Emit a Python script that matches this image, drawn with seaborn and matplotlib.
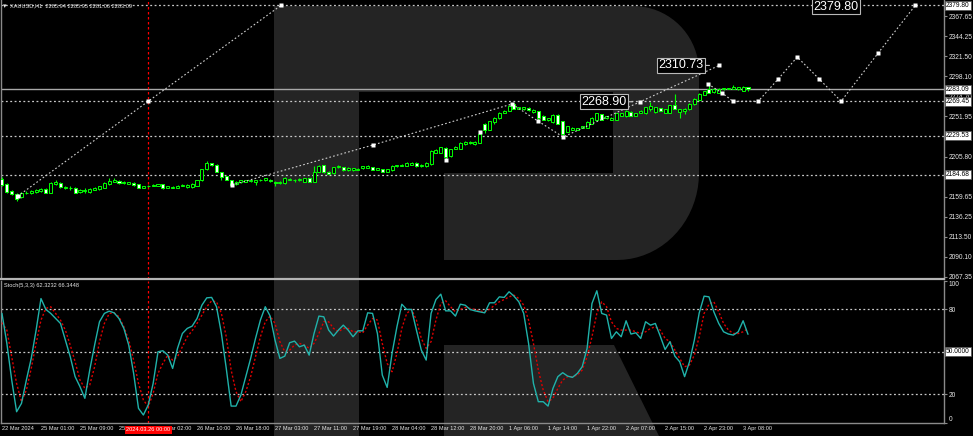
import matplotlib
matplotlib.use("Agg")
import matplotlib.pyplot as plt
import matplotlib.transforms as mtransforms
from matplotlib import font_manager
from matplotlib.patches import Polygon
import seaborn as sns
import pandas as pd
import numpy as np

W, H = 973, 436

# ---- XAUUSD H1 candles (22 Mar 2024 .. 3 Apr 2024 09:00) ----
opens = [2179.9, 2174.1, 2166.1, 2162.6, 2159.2, 2163.8, 2163.8, 2164.9, 2166.1, 2168.4,
         2164.3, 2173.6, 2175.3, 2169.0, 2170.1, 2170.1, 2164.9, 2166.1, 2164.9, 2167.8,
         2168.4, 2170.1, 2173.6, 2177.0, 2177.6, 2175.3, 2174.1, 2175.3, 2173.6, 2170.1,
         2171.3, 2171.8, 2172.4, 2173.6, 2169.5, 2169.5, 2170.1, 2171.8, 2170.7, 2170.7,
         2172.4, 2178.2, 2190.9, 2197.8, 2196.6, 2188.0, 2182.8, 2178.7, 2173.6, 2175.9,
         2177.0, 2177.6, 2177.0, 2178.2, 2178.2, 2179.3, 2177.0, 2175.3, 2175.3, 2179.3,
         2178.2, 2178.2, 2177.0, 2181.0, 2176.4, 2188.5, 2195.5, 2188.5, 2186.3, 2193.7,
         2193.2, 2189.7, 2189.7, 2190.3, 2192.0, 2192.6, 2193.2, 2190.3, 2190.9, 2188.5,
         2189.7, 2194.3, 2194.9, 2194.9, 2196.6, 2198.9, 2194.3, 2194.3, 2197.2, 2210.4,
         2210.4, 2215.6, 2206.4, 2214.4, 2215.0, 2220.2, 2220.8, 2220.2, 2221.9, 2243.3,
         2236.3, 2245.0, 2249.6, 2255.9, 2258.8, 2266.3, 2260.5, 2260.0, 2261.7, 2257.1,
         2258.2, 2253.0, 2247.3, 2245.0, 2253.6, 2246.2, 2234.0, 2236.9, 2236.9, 2238.6,
         2239.2, 2243.8, 2248.4, 2254.2, 2249.6, 2247.9, 2248.4, 2252.5, 2251.9, 2257.1,
         2253.0, 2255.9, 2255.4, 2260.5, 2257.1, 2261.3, 2256.5, 2256.5, 2265.5, 2257.1,
         2258.2, 2260.0, 2266.3, 2270.9, 2277.0, 2283.2, 2279.8, 2279.3, 2283.0, 2283.6,
         2283.9, 2283.2, 2281.6, 2285.94]
highs = [2182.2, 2175.3, 2167.2, 2163.8, 2164.9, 2166.1, 2167.2, 2168.4, 2169.5, 2169.5,
         2176.4, 2178.7, 2175.9, 2171.8, 2171.3, 2170.7, 2168.4, 2169.5, 2169.0, 2170.7,
         2172.4, 2176.4, 2181.0, 2180.5, 2178.2, 2177.6, 2176.4, 2175.9, 2174.1, 2172.4,
         2173.0, 2173.6, 2174.7, 2174.1, 2171.8, 2171.3, 2173.0, 2173.6, 2173.6, 2175.3,
         2179.3, 2191.4, 2200.1, 2198.3, 2197.2, 2188.5, 2183.4, 2179.3, 2177.6, 2178.7,
         2178.7, 2179.3, 2178.7, 2179.9, 2181.0, 2179.9, 2177.6, 2177.6, 2182.2, 2181.0,
         2179.9, 2180.5, 2181.6, 2181.6, 2194.3, 2195.5, 2196.6, 2189.1, 2193.7, 2196.0,
         2193.7, 2193.2, 2192.6, 2192.6, 2194.9, 2195.5, 2193.7, 2192.6, 2191.4, 2191.4,
         2195.5, 2196.6, 2197.2, 2199.5, 2199.5, 2199.5, 2197.2, 2199.5, 2213.3, 2214.4,
         2216.7, 2216.2, 2215.0, 2217.9, 2222.5, 2223.1, 2223.1, 2223.1, 2234.0, 2244.4,
         2246.7, 2251.3, 2257.1, 2259.4, 2265.1, 2268.0, 2263.4, 2262.8, 2262.3, 2260.0,
         2258.8, 2253.6, 2250.2, 2254.2, 2254.2, 2246.7, 2240.9, 2239.8, 2239.2, 2240.9,
         2246.2, 2251.3, 2255.9, 2254.8, 2252.5, 2251.3, 2255.9, 2255.9, 2259.4, 2257.7,
         2256.5, 2259.4, 2262.8, 2268.6, 2263.4, 2261.7, 2261.1, 2265.7, 2277.8, 2261.1,
         2261.7, 2266.9, 2273.2, 2278.4, 2281.8, 2289.3, 2284.7, 2284.7, 2284.7, 2285.3,
         2287.8, 2285.9, 2286.7, 2285.95]
lows = [2171.8, 2163.8, 2161.5, 2154.5, 2158.0, 2162.6, 2162.6, 2163.8, 2164.9, 2163.8,
        2163.8, 2173.0, 2169.5, 2168.4, 2167.8, 2163.8, 2163.2, 2164.3, 2164.3, 2167.2,
        2167.8, 2169.5, 2173.0, 2176.4, 2174.7, 2174.7, 2173.6, 2172.4, 2169.5, 2169.5,
        2170.7, 2171.3, 2171.8, 2168.4, 2169.0, 2169.0, 2169.5, 2171.3, 2170.1, 2169.5,
        2171.8, 2177.6, 2190.3, 2194.9, 2187.4, 2178.2, 2178.2, 2171.8, 2173.0, 2175.3,
        2176.4, 2177.0, 2173.0, 2177.6, 2177.6, 2177.0, 2171.8, 2174.7, 2174.7, 2178.2,
        2176.4, 2177.6, 2176.4, 2175.9, 2175.9, 2188.0, 2186.8, 2185.1, 2185.7, 2192.6,
        2189.1, 2189.1, 2189.1, 2189.7, 2191.4, 2192.0, 2189.7, 2189.7, 2188.0, 2188.0,
        2189.1, 2193.7, 2194.3, 2194.3, 2196.0, 2193.7, 2193.2, 2193.7, 2196.6, 2209.8,
        2209.8, 2202.9, 2205.8, 2213.9, 2214.4, 2219.6, 2220.2, 2219.1, 2221.4, 2232.9,
        2235.8, 2243.8, 2249.0, 2255.4, 2258.2, 2260.0, 2260.0, 2259.4, 2258.8, 2256.5,
        2247.3, 2247.3, 2246.7, 2244.4, 2243.3, 2228.8, 2233.5, 2236.3, 2236.3, 2238.1,
        2238.6, 2243.3, 2247.9, 2247.9, 2249.0, 2247.3, 2247.9, 2251.9, 2251.3, 2252.5,
        2252.5, 2255.4, 2254.8, 2258.8, 2256.5, 2257.7, 2255.9, 2255.9, 2260.0, 2250.7,
        2254.8, 2259.4, 2265.7, 2270.3, 2276.7, 2279.0, 2279.0, 2279.0, 2282.4, 2283.0,
        2283.6, 2282.4, 2281.3, 2281.06]
closes = [2173.0, 2164.9, 2162.6, 2156.9, 2163.8, 2163.4, 2166.1, 2167.2, 2168.4, 2164.3,
          2175.3, 2175.9, 2170.7, 2170.7, 2169.0, 2164.3, 2167.2, 2167.2, 2168.4, 2170.1,
          2171.8, 2175.3, 2177.6, 2178.2, 2175.3, 2176.4, 2175.9, 2173.0, 2170.1, 2171.8,
          2172.4, 2173.0, 2174.1, 2169.0, 2171.3, 2170.7, 2172.4, 2173.0, 2173.0, 2173.6,
          2178.7, 2190.9, 2197.8, 2196.0, 2188.0, 2182.2, 2178.7, 2173.0, 2177.0, 2178.2,
          2178.2, 2178.7, 2178.2, 2179.3, 2180.5, 2177.6, 2175.3, 2177.0, 2181.0, 2179.9,
          2178.7, 2179.9, 2181.0, 2176.4, 2188.5, 2194.3, 2187.4, 2185.7, 2193.2, 2194.3,
          2189.7, 2192.0, 2192.0, 2191.4, 2194.3, 2194.9, 2190.3, 2192.0, 2188.5, 2190.9,
          2194.9, 2196.0, 2196.6, 2198.9, 2198.3, 2194.3, 2196.6, 2198.9, 2212.7, 2213.3,
          2216.2, 2205.8, 2214.4, 2217.3, 2221.9, 2222.5, 2222.5, 2222.5, 2232.3, 2236.3,
          2246.2, 2250.7, 2256.5, 2258.8, 2264.0, 2260.5, 2262.8, 2262.3, 2259.4, 2259.4,
          2250.2, 2247.9, 2249.6, 2253.6, 2243.8, 2232.3, 2240.4, 2239.2, 2238.6, 2240.4,
          2245.6, 2250.7, 2255.4, 2248.4, 2251.9, 2250.7, 2255.4, 2255.4, 2258.8, 2253.0,
          2255.9, 2258.8, 2262.3, 2264.0, 2262.8, 2257.9, 2260.5, 2265.1, 2260.5, 2260.5,
          2260.9, 2266.3, 2272.4, 2277.8, 2280.9, 2279.3, 2283.9, 2283.9, 2284.2, 2284.4,
          2286.2, 2285.5, 2285.9, 2283.09]

# ---- Stochastic(5,3,3) ----
stoch_k = [77.1, 55.9, 30.0, 7.6, 13.5, 30.0, 45.3, 65.3, 87.6, 79.9,
           77.1, 73.5, 70.0, 58.2, 46.5, 32.4, 25.3, 17.1, 37.1, 54.7,
           71.2, 77.1, 78.7, 77.5, 73.5, 66.5, 54.7, 34.7, 10.0, 5.3,
           12.4, 27.6, 50.0, 50.7, 47.6, 38.2, 52.4, 62.9, 66.5, 68.1,
           73.5, 82.9, 88.1, 88.4, 81.8, 62.9, 38.2, 11.6, 11.6, 19.4,
           32.4, 45.3, 59.4, 72.4, 81.8, 75.2, 58.2, 45.3, 46.9, 56.4,
           57.5, 53.5, 54.7, 47.6, 62.9, 75.2, 74.7, 65.3, 61.1, 65.3,
           68.8, 65.3, 60.6, 64.8, 64.8, 77.5, 77.1, 62.9, 33.5, 24.8,
           48.8, 67.6, 83.6, 79.9, 79.9, 65.3, 51.2, 44.1, 77.1, 86.9,
           90.7, 78.9, 78.9, 75.2, 83.6, 82.9, 79.9, 78.9, 78.2, 77.5,
           84.6, 84.6, 88.8, 88.4, 92.4, 89.3, 85.3, 77.1, 55.9, 27.6,
           14.7, 14.7, 11.6, 24.1, 32.4, 35.2, 32.8, 31.9, 34.7, 39.4,
           52.4, 84.1, 93.1, 77.1, 75.9, 59.4, 64.1, 60.6, 71.9, 62.5,
           63.4, 59.4, 71.2, 68.8, 70.0, 61.1, 51.6, 57.1, 46.9, 42.9,
           32.4, 42.9, 58.2, 77.5, 89.3, 88.8, 78.2, 70.0, 64.1, 62.5,
           61.8, 64.1, 71.9, 62.3232]
stoch_d = [70.6, 65.3, 46.5, 27.6, 14.7, 22.9, 38.2, 55.9, 72.4, 80.6,
           81.8, 77.1, 72.4, 65.3, 54.7, 42.9, 30.0, 24.1, 26.5, 39.4,
           57.1, 70.0, 77.1, 77.5, 74.7, 67.6, 58.2, 44.1, 27.6, 15.9,
           11.2, 20.6, 34.7, 41.8, 47.6, 44.1, 46.5, 53.5, 60.6, 64.8,
           70.0, 75.9, 81.8, 86.0, 85.3, 77.1, 60.6, 37.1, 21.8, 14.7,
           21.8, 32.4, 46.5, 60.6, 71.2, 75.2, 70.0, 57.1, 50.0, 51.2,
           54.7, 55.9, 54.7, 52.4, 55.9, 62.9, 71.2, 71.2, 66.5, 64.1,
           66.5, 66.5, 64.1, 64.1, 63.4, 68.8, 73.5, 72.4, 55.9, 41.8,
           35.9, 48.8, 66.5, 77.1, 79.9, 72.4, 59.4, 52.4, 57.1, 72.4,
           84.1, 86.0, 81.8, 78.2, 79.9, 81.3, 80.6, 79.9, 78.9, 78.2,
           79.9, 82.9, 85.3, 86.9, 88.8, 90.0, 87.6, 82.9, 72.4, 55.9,
           37.1, 22.9, 14.7, 17.1, 24.1, 30.0, 32.4, 32.4, 33.5, 37.1,
           46.5, 60.6, 77.1, 85.3, 81.8, 71.2, 66.5, 65.3, 65.3, 65.3,
           64.1, 62.9, 64.1, 66.5, 67.6, 65.3, 59.4, 57.1, 51.2, 45.3,
           39.4, 40.6, 47.6, 60.6, 77.1, 83.6, 85.3, 78.2, 70.0, 65.3,
           62.9, 62.9, 64.1, 66.3448]

# ---- time axis ----
tick_labels = ["22 Mar 2024", "25 Mar 01:00", "25 Mar 09:00", "25 Mar 17:00", "26 Mar 02:00",
               "26 Mar 10:00", "26 Mar 18:00", "27 Mar 03:00", "27 Mar 11:00", "27 Mar 19:00",
               "28 Mar 04:00", "28 Mar 12:00", "28 Mar 20:00", "1 Apr 06:00", "1 Apr 14:00",
               "1 Apr 22:00", "2 Apr 07:00", "2 Apr 15:00", "2 Apr 23:00", "3 Apr 08:00"]
tick_bars = list(range(0, 160, 8))
marker_bar = 30
marker_label = "2024.03.26 00:00"

# ---- price levels ----
levels = [2379.80, 2269.45, 2229.53, 2184.68]
bid = 2283.09
price_ticks = [2067.35, 2090.10, 2113.50, 2136.25, 2159.65, 2182.40, 2205.80, 2229.15,
               2251.95, 2274.70, 2298.10, 2321.50, 2344.25, 2367.65]
hidden_ticks = [2229.15]   # fully covered by the 2229.53 level box in the terminal

# ---- wave lines drawn on the chart ----
wave1_bars = [3.2, 30.0, 57.2]
wave1_prices = [2160.0, 2269.45, 2379.80]
wave2_bars = [47.2, 76.1, 104.6, 109.9, 115.1, 130.9, 147.1]
wave2_prices = [2173.0, 2219.1, 2266.3, 2246.7, 2228.3, 2268.90, 2310.73]
wave3_bars = [144.8, 147.7, 149.9, 155.1, 159.2, 163.1, 167.6, 172.1, 179.7, 187.3]
wave3_prices = [2289.3, 2279.0, 2269.45, 2269.45, 2295.1, 2320.4, 2295.1, 2269.45, 2325.0, 2379.80]
fractal_bars = [91, 98]
fractal_prices = [2201.8, 2234.5]

# ---- fonts ----
try:
    font_manager.findfont("Liberation Sans Narrow", fallback_to_default=False)
    FONT, K = "Liberation Sans Narrow", 1.0
except ValueError:
    FONT, K = "Liberation Sans", 0.82
sns.set_style("dark")
plt.rcParams["font.family"] = [FONT, "DejaVu Sans"]

GREEN = "#00ff00"
FG = "#e8e8e8"
FRAME = "#8a8a8a"
WM = "#242424"

fig = plt.figure(figsize=(W / 100, H / 100), dpi=100, facecolor="black")


def fpt(x, y):
    return (x / W, 1 - y / H)


# RoboForex "R" watermark, drawn on the figure behind both panels
def arc(cx, cy, rx, ry, a0, a1, n=20):
    t = np.radians(np.linspace(a0, a1, n))
    return [(cx + rx * np.cos(a), cy - ry * np.sin(a)) for a in t]


bowl = [(274, 6)] + arc(633, 72, 66, 66, 90, 0) + arc(617, 173, 82, 87, 0, -90) + \
       [(444, 260), (444, 173), (613, 173), (613, 92), (274, 92)]
stem = [(274, 6), (359, 6), (359, 436), (274, 436)]
leg = [(444, 345), (614, 345), (659, 436), (444, 436)]
for shape in (bowl, stem, leg):
    fig.patches.append(Polygon([fpt(x, y) for x, y in shape], closed=True,
                               transform=fig.transFigure, fc=WM, ec="none", zorder=-5))

ax = fig.add_axes([1 / W, 1 - 279 / H, 943 / W, 279 / H])
ax2 = fig.add_axes([1 / W, 1 - 422.5 / H, 943 / W, 141.5 / H])
for a in (ax, ax2):
    a.set_facecolor("none")
    a.set_xlim(-0.2, 193.2)
    a.grid(False)
    for s in a.spines.values():
        s.set_color(FRAME)
        s.set_linewidth(1)
ax.set_ylim(2064.7, 2386.1)
ax2.set_ylim(0, 100)
ax.spines["top"].set_visible(False)
ax.spines["bottom"].set_color("#b4b4b4")
ax.spines["bottom"].set_linewidth(1.6)
ax2.spines["top"].set_visible(False)

# ---- candles ----
df = pd.DataFrame({"o": opens, "h": highs, "l": lows, "c": closes})
df["bar"] = np.arange(len(df))
bull = df["c"] >= df["o"]
ax.vlines(df["bar"], df["l"], df["h"], color=GREEN, lw=0.8, zorder=3)
body = (df["c"] - df["o"]).abs().clip(lower=0.35)
bottom = df[["o", "c"]].min(axis=1)
ax.bar(df["bar"][bull], body[bull], bottom=bottom[bull], width=0.62,
       color="black", edgecolor=GREEN, linewidth=0.7, zorder=4)
ax.bar(df["bar"][~bull], body[~bull], bottom=bottom[~bull], width=0.62,
       color="white", edgecolor=GREEN, linewidth=0.7, zorder=4)

# ---- horizontal levels ----
for lv in levels:
    ax.axhline(lv, color="#c8c8c8", lw=0.9, ls=(0, (1.5, 2)), zorder=1)
ax.axhline(bid, color="#a8a8a8", lw=1.0, zorder=1)

# ---- wave lines ----
for xs, ys in ((wave1_bars, wave1_prices), (wave2_bars, wave2_prices), (wave3_bars, wave3_prices)):
    ax.plot(xs, ys, color="#d0d0d0", lw=0.8, ls=(0, (1.5, 2)), zorder=5)
    ax.plot(xs, ys, "s", ms=2.2, color="white", mec="none", zorder=6)
ax.plot(fractal_bars, fractal_prices, "s", ms=2.2, color="white", mec="none", zorder=6)

big = dict(fontsize=11 * K, color="white", ha="right", va="center", zorder=8,
           bbox=dict(boxstyle="square,pad=0.12", fc="black", ec="#b8b8b8", lw=0.8))
ax.annotate(f"{wave2_prices[-1]:.2f}", xy=(wave2_bars[-1], wave2_prices[-1]), xytext=(-11.5, 0),
            textcoords="offset points",
            arrowprops=dict(arrowstyle="-", color="#c8c8c8", lw=0.8, shrinkA=0, shrinkB=7), **big)
ax.annotate(f"{wave2_prices[-2]:.2f}", xy=(wave2_bars[-2], wave2_prices[-2]), xytext=(-10, 0),
            textcoords="offset points",
            arrowprops=dict(arrowstyle="-", color="#c8c8c8", lw=0.8, shrinkA=0, shrinkB=5.5), **big)
ax.annotate(f"{wave3_prices[-1]:.2f}", xy=(wave3_bars[-1], wave3_prices[-1]), xytext=(-41, -1),
            textcoords="offset points", **big)

# ---- right price scale ----
ax.yaxis.tick_right()
ax.set_yticks(price_ticks)
ax.set_yticklabels(["" if p in hidden_ticks else f"{p:.2f}" for p in price_ticks])
ax.tick_params(axis="y", colors=FRAME, labelcolor=FG, labelsize=5.8 * K, length=2.5, width=0.8, pad=1)
ax.set_xticks([])
yb = mtransforms.blended_transform_factory(ax.transAxes, ax.transData)
for p in levels + [bid]:
    ax.text(1.002, p, f"{p:.2f}", transform=yb, ha="left", va="center", fontsize=5.8 * K,
            color="black", clip_on=False, zorder=10,
            bbox=dict(boxstyle="square,pad=0.15", fc="white", ec="#505050", lw=0.5))

ax.text(0.0095, 0.978, f"XAUUSD,H1  {opens[-1]:.2f} {highs[-1]:.2f} {lows[-1]:.2f} {closes[-1]:.2f}",
        transform=ax.transAxes, ha="left", va="center", fontsize=5 * K, color=FG)
ax.text(0.002, 0.978, "\u25be", transform=ax.transAxes, ha="left", va="center", fontsize=5,
        color=FG, family="DejaVu Sans")

# ---- stochastic panel ----
st = pd.DataFrame({"bar": np.arange(len(stoch_k)), "k": stoch_k, "d": stoch_d})
sns.lineplot(data=st, x="bar", y="k", ax=ax2, color="#20b2aa", lw=1.0, zorder=4)
sns.lineplot(data=st, x="bar", y="d", ax=ax2, color="#e00000", lw=1.0,
             linestyle=(0, (1.5, 1.5)), zorder=3)
for lv in (80, 50, 20):
    ax2.axhline(lv, color="#c8c8c8", lw=0.9, ls=(0, (1.5, 2)), zorder=1)
ax2.set_xlabel("")
ax2.set_ylabel("")
ax2.yaxis.tick_right()
ax2.set_yticks([0, 20, 80, 100])
ax2.set_yticklabels(["0", "20", "80", "100"])
ylabs = ax2.get_yticklabels()
ylabs[0].set_va("bottom")
ylabs[-1].set_va("top")
ax2.tick_params(axis="y", colors=FRAME, labelcolor=FG, labelsize=5.8 * K, length=2.5, width=0.8, pad=1)
sb = mtransforms.blended_transform_factory(ax2.transAxes, ax2.transData)
ax2.text(1.002, 50, "50.0000", transform=sb, ha="left", va="center", fontsize=5.8 * K,
         color="black", clip_on=False, zorder=10,
         bbox=dict(boxstyle="square,pad=0.15", fc="white", ec="#505050", lw=0.5))
ax2.text(0.003, 0.965, f"Stoch(5,3,3) {stoch_k[-1]:.4f} {stoch_d[-1]:.4f}", transform=ax2.transAxes,
         ha="left", va="center", fontsize=5 * K, color=FG)

ax2.set_xticks(tick_bars)
ax2.set_xticklabels(tick_labels, ha="left")
ax2.tick_params(axis="x", colors=FRAME, labelcolor=FG, labelsize=5 * K, length=2, width=0.8, pad=0.8)

# red time marker
for a in (ax, ax2):
    a.axvline(marker_bar, color="red", lw=0.9, ls=(0, (2, 2)), zorder=2)
xb = mtransforms.blended_transform_factory(ax2.transData, ax2.transAxes)
ax2.text(marker_bar, -0.053, marker_label, transform=xb, ha="center", va="center",
         fontsize=5 * K, color="white", clip_on=False, zorder=20,
         bbox=dict(boxstyle="square,pad=0.25", fc="red", ec="none"))

fig.savefig("out.png", dpi=100, facecolor="black")
